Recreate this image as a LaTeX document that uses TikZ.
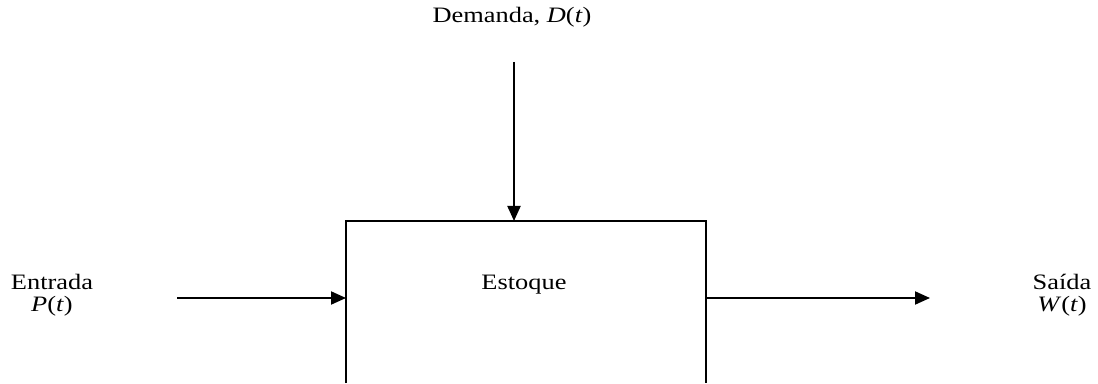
\documentclass[tikz,border=0pt]{standalone}
\usepackage{fontspec}
\setmainfont{Liberation Serif}
\usetikzlibrary{arrows.meta}
\newcommand{\wtxt}[1]{\scalebox{1.2}[1]{#1}}
\begin{document}
\begin{tikzpicture}[x=1pt,y=1pt,
  lbl/.style={font=\fontsize{22}{22}\selectfont, inner sep=0pt, anchor=base},
  flow/.style={line width=2pt, -{Triangle[length=15pt,width=13pt]}},
  boxline/.style={line width=1.5pt}]
\useasboundingbox (0,0) rectangle (1098,383);
% box (open at bottom)
\coordinate (bl) at (346,0);
\coordinate (tl) at (346,162);
\coordinate (tr) at (706,162);
\coordinate (br) at (706,0);
\draw[boxline] (bl) -- (tl) -- (tr) -- (br);
\node[lbl] (est) at (524,93) {\wtxt{Estoque}};
\coordinate (inL) at (346,85);
\coordinate (outR) at (706,85);
\coordinate (topIn) at (514,162);
% labels
\node[lbl] (ent) at (52,93) {\wtxt{Entrada}};
\node[lbl] (entp) at (52,71) {\wtxt{\textit{P}(\textit{t})}};
\node[lbl] (sai) at (1062,93) {\wtxt{Saída}};
\node[lbl] (saiw) at (1062,71) {\wtxt{\textit{W}(\textit{t})}};
\node[lbl] (dem) at (512,360) {\wtxt{Demanda, \textit{D}(\textit{t})}};
\coordinate (a1) at (177,85);
\coordinate (b2) at (930,85);
\coordinate (d1) at (514,321);
\draw[flow] (a1) -- (inL);
\draw[flow] (outR) -- (b2);
\draw[flow] (d1) -- (topIn);
\end{tikzpicture}
\end{document}
